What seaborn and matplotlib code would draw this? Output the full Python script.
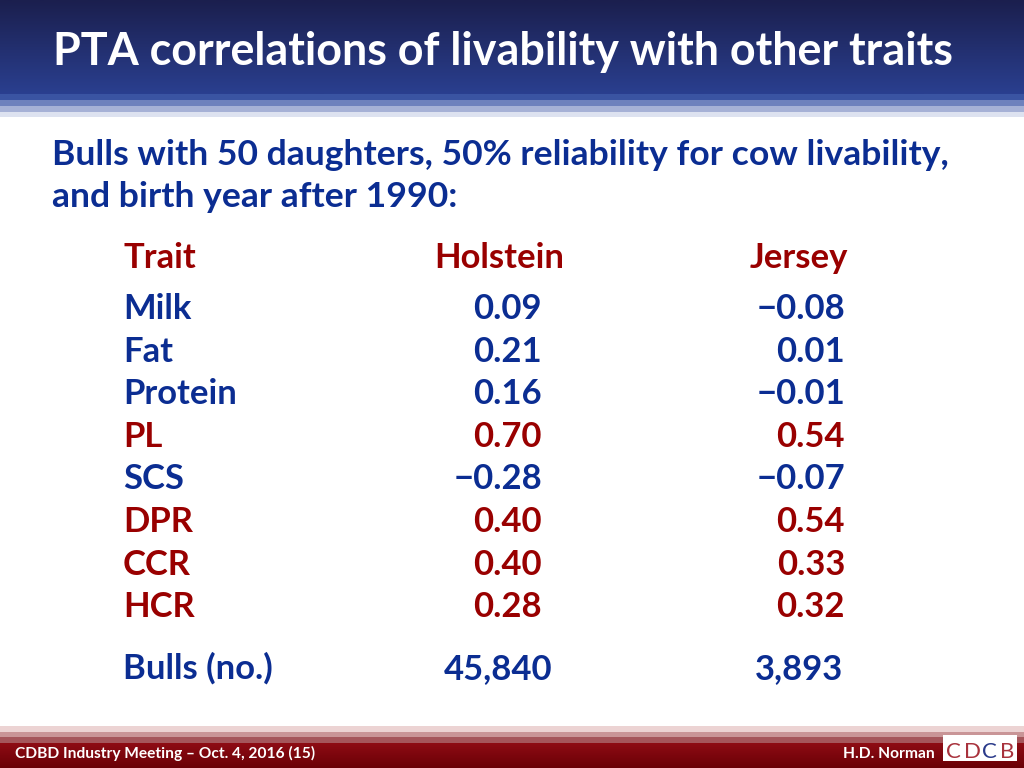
import numpy as np
import pandas as pd
import matplotlib
matplotlib.use('Agg')
import matplotlib.pyplot as plt
from matplotlib.colors import LinearSegmentedColormap
from matplotlib.patches import Rectangle
import seaborn as sns

# slide text
title = 'PTA correlations of livability with other traits'
subtitle = ['Bulls with 50 daughters, 50% reliability for cow livability,',
            'and birth year after 1990:']
breeds = ['Holstein', 'Jersey']
traits = ['Milk', 'Fat', 'Protein', 'PL', 'SCS', 'DPR', 'CCR', 'HCR']
holstein = [0.09, 0.21, 0.16, 0.70, -0.28, 0.40, 0.40, 0.28]
jersey = [-0.08, 0.01, -0.01, 0.54, -0.07, 0.54, 0.33, 0.32]
bulls = [45840, 3893]
footer_left = 'CDBD Industry Meeting \u2013 Oct. 4, 2016 (15)'
footer_right = 'H.D. Norman'
logo = 'CDCB'

df = pd.DataFrame({'Trait': traits, 'Holstein': holstein, 'Jersey': jersey})

sns.set_theme(style='white')
plt.rcParams['font.family'] = ['Lato', 'DejaVu Sans']

BLUE = '#0b2d92'
RED = '#990000'
red_traits = {'PL', 'DPR', 'CCR', 'HCR'}

fig = plt.figure(figsize=(10.24, 7.68), dpi=100)
ax = fig.add_axes([0, 0, 1, 1])
ax.set_xlim(0, 1024)
ax.set_ylim(768, 0)
ax.axis('off')
renderer = fig.canvas.get_renderer()


def gradient(y0, y1, c0, c1):
    cmap = LinearSegmentedColormap.from_list('g', [c0, c1])
    ax.imshow(np.linspace(0, 1, 64)[:, None], cmap=cmap, aspect='auto',
              extent=(0, 1024, y1, y0), zorder=0)


# header band and stripes
gradient(0, 94, '#1b1f4e', '#2a3f8f')
for y0, y1, c in [(94, 100, '#3a54a2'), (100, 106, '#6e81bd'),
                  (106, 112, '#a6b1d6'), (112, 117, '#dde2f0')]:
    ax.add_patch(Rectangle((0, y0), 1024, y1 - y0, color=c, lw=0, zorder=1))

# footer stripes and band
for y0, y1, c in [(726, 732, '#ecd3d3'), (732, 737, '#c99597'),
                  (737, 743, '#a5565b')]:
    ax.add_patch(Rectangle((0, y0), 1024, y1 - y0, color=c, lw=0, zorder=1))
gradient(743, 768, '#8e0c14', '#6a0006')


def fit(txt, x, y, width, **kw):
    t = ax.text(x, y, txt, fontsize=20, fontweight='bold', va='baseline', **kw)
    w = t.get_window_extent(renderer).width
    t.set_fontsize(20 * width / w)
    return t


fit(title, 53, 65, 902, color='white', zorder=3)
t = fit(subtitle[0], 52, 165, 895, color=BLUE)
ax.text(52, 207, subtitle[1], fontsize=t.get_fontsize(), fontweight='bold',
        color=BLUE, va='baseline')

# table
hdr = fit('Holstein', 499, 268, 130, color=RED, ha='center')
fs = hdr.get_fontsize()
ax.text(123, 268, 'Trait', fontsize=fs, fontweight='bold', color=RED, va='baseline')
ax.text(799, 268, breeds[1], fontsize=fs, fontweight='bold', color=RED,
        va='baseline', ha='center')

row_gap = 42.6
for i, row in df.iterrows():
    y = 319 + i * row_gap
    c = RED if row['Trait'] in red_traits else BLUE
    ax.text(123, y, row['Trait'], fontsize=fs, fontweight='bold', color=c, va='baseline')
    for x, col in [(542, 'Holstein'), (845, 'Jersey')]:
        s = f"{row[col]:.2f}".replace('-', '\u2212')
        ax.text(x, y, s, fontsize=fs, fontweight='bold', color=c,
                va='baseline', ha='right')

ax.text(123, 679, 'Bulls (no.)', fontsize=fs, fontweight='bold', color=BLUE, va='baseline')
for x, n in zip([498, 799], bulls):
    ax.text(x, 679, f"{n:,}", fontsize=fs, fontweight='bold', color=BLUE,
            va='baseline', ha='center')

# footer text and logo
fit(footer_left, 15, 758, 299, color='white', zorder=3)
fit(footer_right, 935, 758, 92, color='white', ha='right', zorder=3)
ax.add_patch(Rectangle((943, 735), 74, 26, color='white', lw=0, zorder=3))
for x, ch, c in zip([946, 964, 982, 1000], logo,
                    ['#a8323c', '#a8323c', '#2a3a8a', '#a8323c']):
    ax.text(x, 758, ch, fontsize=16, fontweight='normal', color=c,
            va='baseline', zorder=4)

fig.savefig('out.png', dpi=100)
